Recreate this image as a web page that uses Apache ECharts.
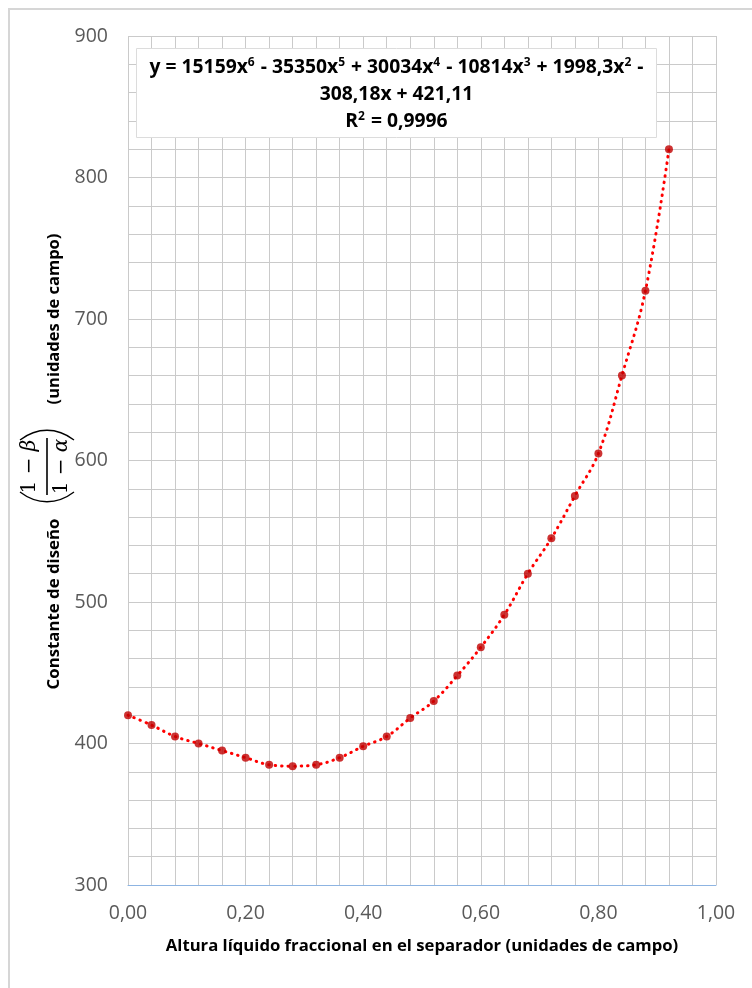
<!DOCTYPE html>
<html>
<head>
<meta charset="utf-8">
<script src="https://cdn.jsdelivr.net/npm/echarts@6/dist/echarts.min.js"></script>
<style>
  html, body { margin: 0; padding: 0; background: #fff; }
  #chart { width: 752px; height: 988px; }
</style>
</head>
<body>
<div id="chart"></div>
<script>
// datos
var alturas = [0.00, 0.04, 0.08, 0.12, 0.16, 0.20, 0.24, 0.28, 0.32, 0.36, 0.40, 0.44,
               0.48, 0.52, 0.56, 0.60, 0.64, 0.68, 0.72, 0.76, 0.80, 0.84, 0.88, 0.92];
var constantes = [420, 413, 405, 400, 395, 390, 385, 384, 385, 390, 398, 405,
                  418, 430, 448, 468, 491, 520, 545, 575, 605, 660, 720, 820];
var ecuacion = [
    '{n|y = 15159x}{s|6}{n| - 35350x}{s|5}{n| + 30034x}{s|4}{n| - 10814x}{s|3}{n| + 1998,3x}{s|2}{n| -}',
    '{n|308,18x + 421,11}',
    '{n|R}{s|2}{n| = 0,9996}'
];
var tituloX = 'Altura líquido fraccional en el separador (unidades de campo)';
var tituloY1 = 'Constante de diseño';
var tituloY2 = '(unidades de campo)';

var puntos = alturas.map(function (x, i) { return [x, constantes[i]]; });

var rich = {
    n: { font: 'bold 19.3px "Open Sans"', fill: '#000', verticalAlign: 'bottom' },
    s: { font: 'bold 12px "Open Sans"', fill: '#000', verticalAlign: 'bottom', padding: [0, 1, 8, 0] }
};

function esMultiplo(v, paso) {
    var r = v / paso;
    return Math.abs(r - Math.round(r)) < 1e-6;
}

function texto(x, y, t, font, extra) {
    var st = { text: t, font: font, fill: '#000',
               textAlign: 'center', align: 'center', textVerticalAlign: 'middle', verticalAlign: 'middle' };
    if (extra) st.rich = extra;
    return { type: 'text', x: x, y: y, z: 11, style: st };
}

var myChart = echarts.init(document.getElementById('chart'));
var option = {
    backgroundColor: '#fff',
    animation: false,
    grid: { left: 128, right: 36, top: 36, bottom: 103 },
    xAxis: {
        type: 'value', min: 0, max: 1, interval: 0.04,
        axisLine: { show: true, lineStyle: { color: '#8db4e2', width: 1 } },
        axisTick: { show: false },
        splitLine: { show: true, lineStyle: { color: '#cacaca', width: 1 } },
        axisLabel: {
            margin: 18, color: '#595959', fontSize: 19.5, fontFamily: 'Open Sans',
            formatter: function (v) { return esMultiplo(v, 0.2) ? v.toFixed(2).replace('.', ',') : ''; }
        },
        name: tituloX, nameLocation: 'middle', nameGap: 53,
        nameTextStyle: { color: '#000', fontSize: 16.7, fontWeight: 'bold', fontFamily: 'Open Sans' }
    },
    yAxis: {
        type: 'value', min: 300, max: 900, interval: 20,
        axisLine: { show: false },
        axisTick: { show: false },
        splitLine: { show: true, lineStyle: { color: '#cacaca', width: 1 } },
        axisLabel: {
            margin: 20, color: '#595959', fontSize: 19.5, fontFamily: 'Open Sans',
            formatter: function (v) { return esMultiplo(v, 100) ? String(v) : ''; }
        }
    },
    series: [
        {
            type: 'line', data: puntos, smooth: 0.4, symbol: 'none', z: 2,
            lineStyle: { color: '#ff0000', width: 3, type: [0.5, 6], cap: 'round' }
        },
        {
            type: 'scatter', data: puntos, symbol: 'circle', symbolSize: 8, z: 3,
            itemStyle: { color: '#c00000' }
        }
    ],
    graphic: [
        { type: 'rect', shape: { x: 9, y: 9, width: 800, height: 1000 },
          style: { fill: 'none', stroke: '#d6d6d6', lineWidth: 2 }, silent: true, z: -10 },
        { type: 'rect', shape: { x: 136.5, y: 48.5, width: 520, height: 89 },
          style: { fill: '#fff', stroke: '#dcdcdc', lineWidth: 1 }, z: 10 },
        texto(396.5, 67, ecuacion[0], 'bold 19.3px "Open Sans"', rich),
        texto(396.5, 95, ecuacion[1], 'bold 19.3px "Open Sans"', rich),
        texto(396.5, 121, ecuacion[2], 'bold 19.3px "Open Sans"', rich),
        {
            type: 'group', x: 47, y: 461, rotation: Math.PI / 2, z: 10,
            children: [
                texto(-143, 7, tituloY1, 'bold 16.8px "Open Sans"'),
                texto(142, 7, tituloY2, 'bold 16.5px "Open Sans"'),
                { type: 'line', shape: { x1: -34, y1: 0, x2: 23, y2: 0 },
                  style: { stroke: '#000', lineWidth: 1.6 } },
                texto(-5.5, -17, '1 − {i|β}', '20px "DejaVu Serif"',
                      { i: { font: 'italic 20px "DejaVu Serif"', fill: '#000' } }),
                texto(-5.5, 15, '1 − {i|α}', '20px "DejaVu Serif"',
                      { i: { font: 'italic 20px "DejaVu Serif"', fill: '#000' } }),
                { type: 'bezierCurve',
                  shape: { x1: -31, y1: -27, x2: -31, y2: 27, cpx1: -44, cpy1: -10, cpx2: -44, cpy2: 10 },
                  style: { stroke: '#000', lineWidth: 1.3, fill: 'none' } },
                { type: 'bezierCurve',
                  shape: { x1: 21, y1: -27, x2: 21, y2: 27, cpx1: 34, cpy1: -10, cpx2: 34, cpy2: 10 },
                  style: { stroke: '#000', lineWidth: 1.3, fill: 'none' } }
            ]
        }
    ]
};
myChart.setOption(option);
</script>
</body>
</html>
